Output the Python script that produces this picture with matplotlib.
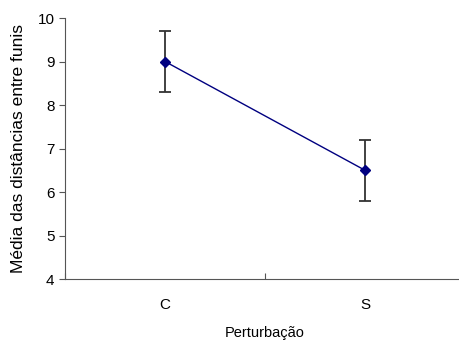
import matplotlib
matplotlib.use('Agg')
import matplotlib.pyplot as plt

plt.rcParams['font.family'] = ['Liberation Sans', 'DejaVu Sans']

categories = ['C', 'S']
means = [9.0, 6.5]
errors = [0.7, 0.7]

fig = plt.figure(figsize=(4.59, 3.41), dpi=100)
ax = fig.add_axes([0.1416, 0.1818, 0.8715, 0.7654])

x = [0.5, 1.5]
ax.errorbar(x, means, yerr=errors, color='#000080', marker='D', markersize=5,
            linewidth=1, ecolor='#333333', elinewidth=1.3, capsize=4, capthick=1.3)

ax.set_xlim(0, 2)
ax.set_ylim(4, 10)
ax.set_yticks(range(4, 11))
ax.set_xticks([0, 1, 2])
ax.set_xticks(x, minor=True)
ax.set_xticklabels([])
ax.set_xticklabels(categories, minor=True)
ax.tick_params(axis='x', which='minor', length=0, pad=14, labelsize=11)
ax.tick_params(axis='x', which='major', direction='in', length=4, color='#555555')
ax.tick_params(axis='y', direction='out', length=4, labelsize=11, color='#555555')

for s in ['top', 'right']:
    ax.spines[s].set_visible(False)
for s in ['left', 'bottom']:
    ax.spines[s].set_color('#555555')

ax.set_ylabel('Média das distâncias entre funis', fontsize=12.5, labelpad=8)
ax.set_xlabel('Perturbação', fontsize=10.5, labelpad=10)

fig.savefig('out.png', dpi=100)
